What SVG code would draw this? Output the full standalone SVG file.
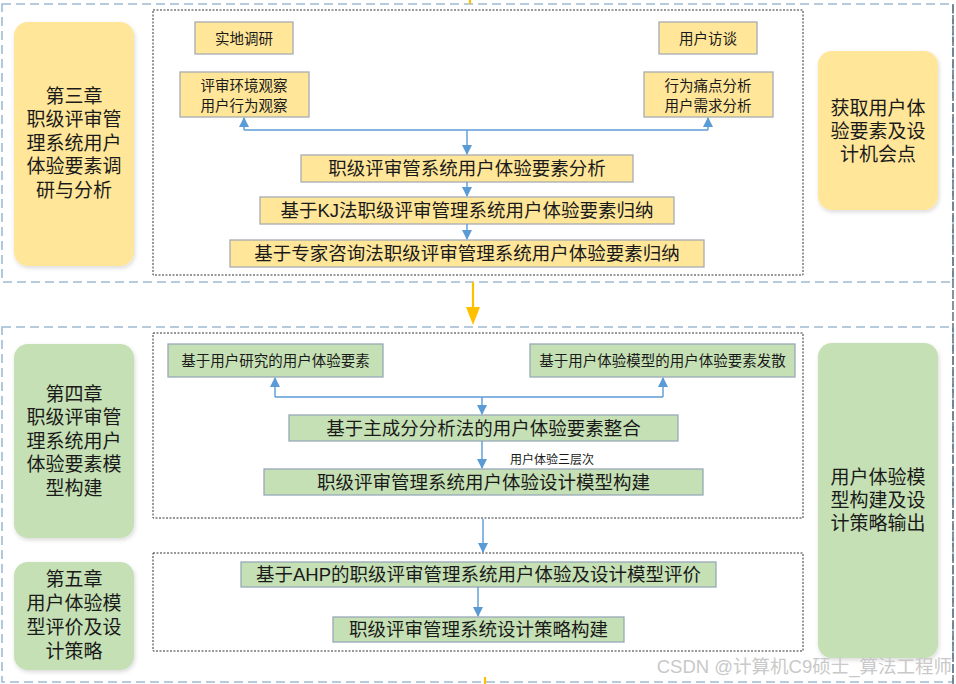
<svg xmlns="http://www.w3.org/2000/svg" width="956" height="684" viewBox="0 0 956 684">
<style>
text{font-family:"Liberation Sans","Noto Sans CJK SC",sans-serif;fill:#1a1a1a;text-anchor:middle;dominant-baseline:central}
.sec{fill:none;stroke:#9fbbd3;stroke-width:1.6;stroke-dasharray:9 5}
.dot{fill:none;stroke:#333;stroke-width:1;stroke-dasharray:2 1.5}
.y{fill:#ffe699;stroke:#a7acb3;stroke-width:1.3}
.g{fill:#c5e0b4;stroke:#97a9b8;stroke-width:1.3}
.chy{fill:#ffe699}
.chg{fill:#c5e0b4}
.ch{font-size:19px}
.big{font-size:18.5px}
.sm{font-size:14.5px}
.con{fill:none;stroke:#5b9bd5;stroke-width:1.4}
.yel{fill:none;stroke:#ffc000;stroke-width:2.2}
</style>
<defs>
<marker id="ah" markerUnits="userSpaceOnUse" markerWidth="10" markerHeight="12" refX="9" refY="5" orient="auto"><path d="M0,0 L10,5 L0,10 z" fill="#5b9bd5"/></marker>
<filter id="sh" x="-10%" y="-10%" width="120%" height="120%"><feDropShadow dx="1" dy="2" stdDeviation="2" flood-color="#000" flood-opacity="0.15"/></filter>
</defs>
<rect width="956" height="684" fill="#fff"/>

<g id="sections">
<rect class="sec" x="2" y="4" width="951" height="278"/>
<rect class="sec" x="2" y="327" width="951" height="355"/>
<line x1="953" y1="4" x2="953" y2="684" stroke="#5d6f80" stroke-width="1.5" stroke-dasharray="9 2"/>
<rect class="dot" x="153" y="10" width="650" height="265"/>
<rect class="dot" x="153" y="333" width="650" height="185"/>
<rect class="dot" x="153" y="553" width="650" height="98"/>
</g>

<g id="ch3">
<rect class="chy" x="14" y="22" width="120" height="244" rx="14" filter="url(#sh)"/>
<text class="ch" x="74" y="96">第三章</text>
<text class="ch" x="74" y="119.5">职级评审管</text>
<text class="ch" x="74" y="143">理系统用户</text>
<text class="ch" x="74" y="166.5">体验要素调</text>
<text class="ch" x="74" y="190">研与分析</text>
</g>
<g id="out1">
<rect class="chy" x="818" y="51" width="120" height="159" rx="14" filter="url(#sh)"/>
<text class="ch" x="878" y="108">获取用户体</text>
<text class="ch" x="878" y="131">验要素及设</text>
<text class="ch" x="878" y="154">计机会点</text>
</g>
<g id="ch4">
<rect class="chg" x="14" y="344" width="120" height="194" rx="14" filter="url(#sh)"/>
<text class="ch" x="74" y="394">第四章</text>
<text class="ch" x="74" y="417.5">职级评审管</text>
<text class="ch" x="74" y="441">理系统用户</text>
<text class="ch" x="74" y="464.5">体验要素模</text>
<text class="ch" x="74" y="488">型构建</text>
</g>
<g id="ch5">
<rect class="chg" x="14" y="562" width="120" height="108" rx="14" filter="url(#sh)"/>
<text class="ch" x="74" y="579">第五章</text>
<text class="ch" x="74" y="603">用户体验模</text>
<text class="ch" x="74" y="627">型评价及设</text>
<text class="ch" x="74" y="651">计策略</text>
</g>
<g id="out2">
<rect class="chg" x="818" y="343" width="120" height="315" rx="14" filter="url(#sh)"/>
<text class="ch" x="878" y="477">用户体验模</text>
<text class="ch" x="878" y="500">型构建及设</text>
<text class="ch" x="878" y="523">计策略输出</text>
</g>

<g id="n_field">
<rect class="y" x="195" y="22" width="98" height="32"/>
<text class="sm" x="244" y="38.5">实地调研</text>
</g>
<g id="n_interview">
<rect class="y" x="659" y="22" width="98" height="32"/>
<text class="sm" x="708" y="38.5">用户访谈</text>
</g>
<g id="n_observe">
<rect class="y" x="180" y="72" width="129" height="45"/>
<text class="sm" x="244" y="85.5">评审环境观察</text>
<text class="sm" x="244" y="105.5">用户行为观察</text>
</g>
<g id="n_pain">
<rect class="y" x="644" y="72" width="129" height="45"/>
<text class="sm" x="708" y="85.5">行为痛点分析</text>
<text class="sm" x="708" y="105.5">用户需求分析</text>
</g>
<g id="n_analysis">
<rect class="y" x="301" y="155" width="332" height="27"/>
<text class="big" x="467" y="168.5">职级评审管系统用户体验要素分析</text>
</g>
<g id="n_kj">
<rect class="y" x="260" y="197" width="414" height="27"/>
<text class="big" x="467" y="210.5">基于KJ法职级评审管理系统用户体验要素归纳</text>
</g>
<g id="n_expert">
<rect class="y" x="230" y="240" width="474" height="27"/>
<text class="big" x="467" y="253.5">基于专家咨询法职级评审管理系统用户体验要素归纳</text>
</g>

<g id="n_research">
<rect class="g" x="168" y="344" width="215" height="33"/>
<text class="sm" x="275.5" y="360.5">基于用户研究的用户体验要素</text>
</g>
<g id="n_model">
<rect class="g" x="530" y="344" width="265" height="33"/>
<text class="sm" x="662.5" y="360.5">基于用户体验模型的用户体验要素发散</text>
</g>
<g id="n_pca">
<rect class="g" x="289" y="415" width="389" height="26"/>
<text class="big" x="483.5" y="428">基于主成分分析法的用户体验要素整合</text>
</g>
<g id="n_design">
<rect class="g" x="264" y="469" width="439" height="26"/>
<text class="big" x="483.5" y="482">职级评审管理系统用户体验设计模型构建</text>
</g>
<g id="n_ahp">
<rect class="g" x="241" y="562" width="475" height="25"/>
<text class="big" x="478.5" y="574.5">基于AHP的职级评审管理系统用户体验及设计模型评价</text>
</g>
<g id="n_strategy">
<rect class="g" x="333" y="617" width="291" height="25"/>
<text class="big" x="478.5" y="629.5">职级评审管理系统设计策略构建</text>
</g>

<g id="connectors">
<path class="con" d="M244,130 H708"/>
<path class="con" d="M244,130 V118" marker-end="url(#ah)"/>
<path class="con" d="M708,130 V118" marker-end="url(#ah)"/>
<path class="con" d="M467,130 V154" marker-end="url(#ah)"/>
<path class="con" d="M467,182 V196" marker-end="url(#ah)"/>
<path class="con" d="M467,224 V239" marker-end="url(#ah)"/>
<path class="con" d="M275,397 H663"/>
<path class="con" d="M275,397 V378" marker-end="url(#ah)"/>
<path class="con" d="M663,397 V378" marker-end="url(#ah)"/>
<path class="con" d="M482,397 V414" marker-end="url(#ah)"/>
<path class="con" d="M482,441 V468" marker-end="url(#ah)"/>
<path class="con" d="M483,519 V552" marker-end="url(#ah)"/>
<path class="con" d="M478,587 V616" marker-end="url(#ah)"/>
<path class="yel" d="M470,0 V4"/>
<path class="yel" d="M473,282 V308"/>
<path d="M466,307 L480,307 L473,325 z" fill="#ffc000"/>
<path class="yel" d="M485,677 V684"/>
</g>
<text x="552" y="460" style="font-size:12px">用户体验三层次</text>
<text x="952" y="666" style="font-size:18.5px;fill:#c9c9c9;text-anchor:end">CSDN @计算机C9硕士_算法工程师</text>
</svg>
